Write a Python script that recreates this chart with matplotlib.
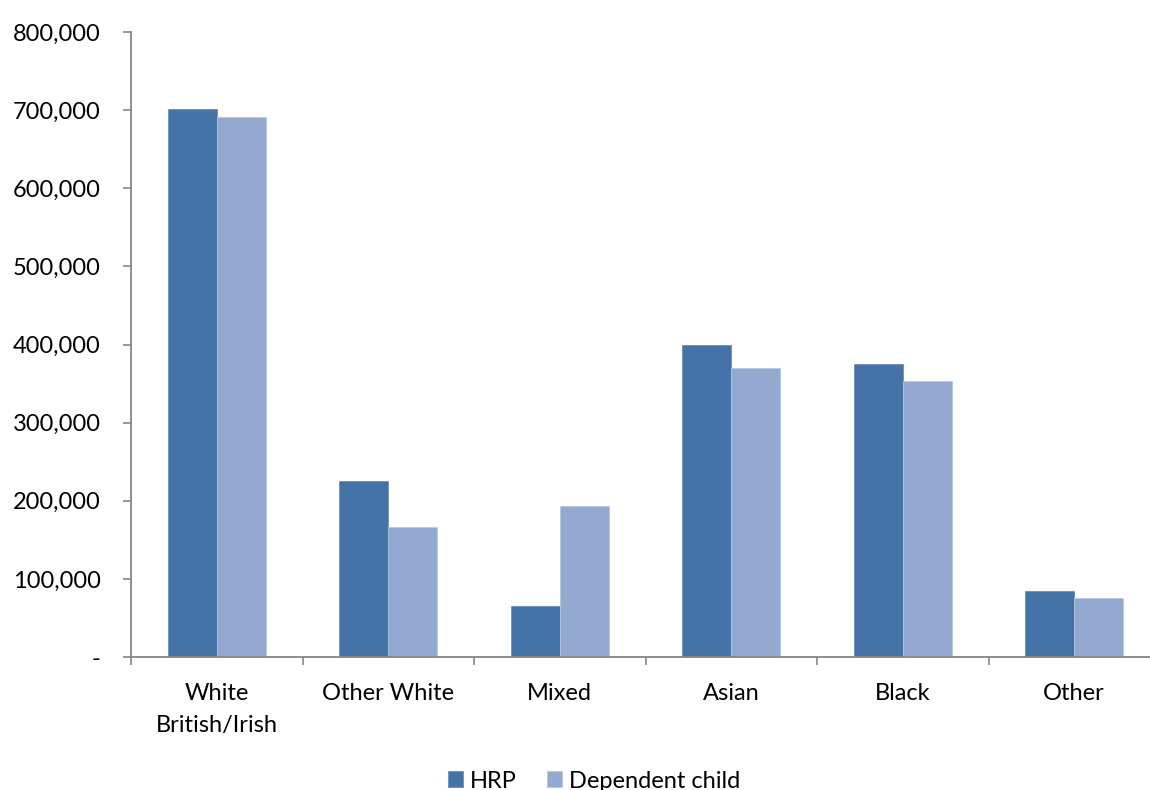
import matplotlib
matplotlib.use("Agg")
import matplotlib.pyplot as plt
import numpy as np
from matplotlib.ticker import FuncFormatter, FixedLocator

categories = ["White\nBritish/Irish", "Other White", "Mixed", "Asian", "Black", "Other"]
hrp = [701000, 225000, 65000, 399000, 375000, 84500]
dependent_child = [691000, 166000, 193500, 370000, 353000, 75500]
series_names = ["HRP", "Dependent child"]

plt.rcParams["font.family"] = ["Lato", "DejaVu Sans"]

fig = plt.figure(figsize=(11.5, 7.9), dpi=100)
ax = fig.add_axes([131 / 1150, 1 - 657 / 790, (1160 - 131) / 1150, (657 - 32) / 790])

x = np.arange(len(categories))
w = 0.286
b1 = ax.bar(x - w / 2, hrp, width=w, color="#4572A7", edgecolor="#6b8fc0", linewidth=0.6, label=series_names[0])
b2 = ax.bar(x + w / 2, dependent_child, width=w, color="#93A9CF", edgecolor="#b7c8e4", linewidth=0.6, label=series_names[1])

ax.set_xlim(-0.5, len(categories) - 0.5)
ax.set_ylim(0, 800000)
ax.set_yticks(np.arange(0, 800001, 100000))
ax.yaxis.set_major_formatter(FuncFormatter(lambda v, p: "-" if v == 0 else f"{int(v):,}"))

ax.set_xticks(x)
ax.set_xticklabels(categories, fontsize=17, linespacing=1.6)
ax.xaxis.set_minor_locator(FixedLocator(np.arange(-0.5, len(categories), 1.0)))
ax.tick_params(axis="x", which="major", length=0, pad=19)
ax.tick_params(axis="x", which="minor", length=6, direction="out", color="#868686", width=1.2)
ax.tick_params(axis="y", length=6, direction="out", color="#868686", width=1.2, labelsize=17, pad=16)
for lbl in ax.get_yticklabels():
    lbl.set_horizontalalignment("right")

for side in ["top", "right"]:
    ax.spines[side].set_visible(False)
for side in ["left", "bottom"]:
    ax.spines[side].set_color("#868686")
    ax.spines[side].set_linewidth(1.3)

fig.legend(handles=[b1, b2], labels=series_names, loc="center", bbox_to_anchor=(594 / 1150, 1 - 781 / 790),
           ncol=2, frameon=False, fontsize=17, handlelength=0.65, handleheight=0.65,
           handletextpad=0.3, columnspacing=1.25)

fig.savefig("out.png", dpi=100)
